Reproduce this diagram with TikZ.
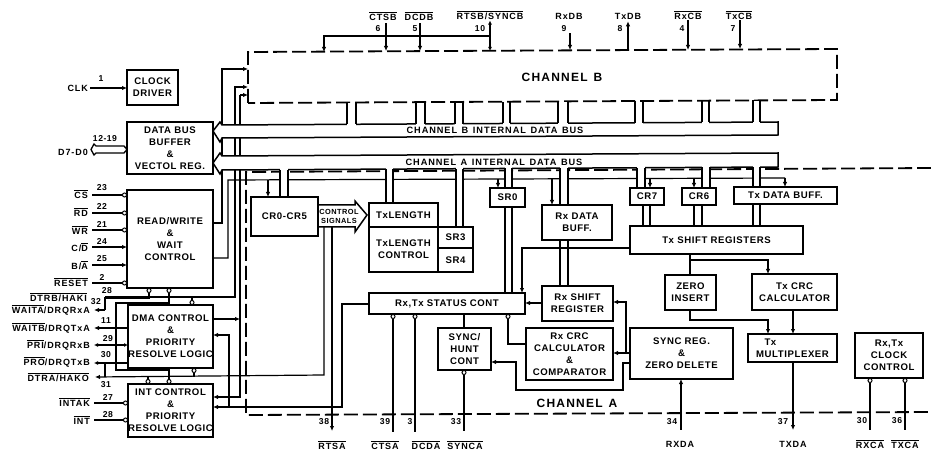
\documentclass[tikz,border=0pt]{standalone}
\usepackage{fontspec}
\setmainfont{Liberation Sans}[LetterSpace=6]
\newfontfamily\widefont{Liberation Sans}[LetterSpace=10]
\usetikzlibrary{arrows.meta,calc}
\newcommand\ovl[1]{$\overline{\hbox{#1}}$}
\tikzset{
  box/.style={draw,line width=2.1pt,inner sep=0pt,outer sep=0pt,align=center,font=\fontsize{9.6}{12}\selectfont\bfseries},
  wire/.style={line width=1.2pt},
  heavy/.style={line width=1.8pt},
  arr/.style={-{Latex[length=5pt,width=4.5pt]}},
  rarr/.style={{Latex[length=5pt,width=4.5pt]}-},
  bub/.style={-{Circle[open,fill=white,length=5pt,width=5pt,line width=1pt]}},
  rbub/.style={{Circle[open,fill=white,length=5pt,width=5pt,line width=1pt]}-},
  dash box/.style={line width=1.8pt,dash pattern=on 14pt off 5pt},
  pin/.style={font=\widefont\fontsize{9}{10}\selectfont\bfseries,inner sep=0pt},
  num/.style={font=\fontsize{8.6}{10}\selectfont\bfseries,inner sep=0pt},
  buslabel/.style={font=\widefont\fontsize{9.2}{10}\selectfont\bfseries,inner sep=0pt},
  big/.style={font=\widefont\fontsize{12}{13}\selectfont\bfseries,inner sep=0pt},
}
% name, x1, y1, x2, y2, text
\newcommand\bx[6]{%
  \pgfmathsetmacro\bw{#4-#2}\pgfmathsetmacro\bh{#5-#3}%
  \node[box,minimum width=\bw pt,minimum height=\bh pt,anchor=north west] (#1) at (#2,#3) {#6};}
% stubs: x1, x2, y1, y2
\newcommand\stubB[4]{% opens downward into the bus
  \fill[white] (#1,#3+1) rectangle (#2,#4+1.6);
  \draw[line width=1.5pt] (#1,#3) -- (#1,#4) (#2,#3) -- (#2,#4);}
\newcommand\stubA[4]{% opens upward into the bus
  \fill[white] (#1,#3-1.6) rectangle (#2,#4-1.1);
  \draw[line width=1.5pt] (#1,#3) -- (#1,#4) (#2,#3) -- (#2,#4);}
\newcommand\stubM[4]{% box to box
  \draw[line width=1.5pt] (#1,#3) -- (#1,#4) (#2,#3) -- (#2,#4);}
\begin{document}
\begin{tikzpicture}[x=1pt,y=-1pt]
\useasboundingbox (0,0) rectangle (931,454);

% channel frames
\draw[dash box] (248,103) -- (248,52) -- (837,49) -- (837,100) -- cycle;
\draw[dash box] (931,168) -- (246,172) -- (246,415) -- (931,412);

% boxes
\bx{clock}{127}{70}{178}{105}{CLOCK\\DRIVER}
\bx{dbuf}{127}{122}{213}{174}{DATA BUS\\BUFFER\\\&\\VECTOL REG.}
\bx{rw}{127}{190}{213}{288}{READ/WRITE\\\&\\WAIT\\CONTROL}
\bx{dma}{128}{305}{213}{368}{DMA CONTROL\\\&\\PRIORITY\\RESOLVE LOGIC}
\bx{int}{128}{384}{213}{437}{INT CONTROL\\\&\\PRIORITY\\RESOLVE LOGIC}
\bx{cr0}{251}{197}{318}{236}{CR0-CR5}
\bx{txl}{369}{203}{438}{227}{TxLENGTH}
\bx{txc}{369}{227}{438}{272}{TxLENGTH\\CONTROL}
\bx{sr3}{438}{227}{473}{248}{SR3}
\bx{sr4}{438}{248}{473}{272}{SR4}
\bx{sr0}{490}{188}{525}{207}{SR0}
\bx{rxbuf}{542}{205}{612}{240}{Rx DATA\\BUFF.}
\bx{cr7}{630}{188}{664}{205}{CR7}
\bx{cr6}{682}{188}{716}{205}{CR6}
\bx{txbuf}{734}{187}{837}{204}{Tx DATA BUFF.}
\bx{txsr}{630}{226}{803}{254}{Tx SHIFT REGISTERS}
\bx{zero}{665}{275}{716}{310}{ZERO\\INSERT}
\bx{txcrc}{752}{274}{837}{310}{Tx CRC\\CALCULATOR}
\bx{mux}{748}{334}{837}{362}{Tx\hspace{4.6em}\null\\MULTIPLEXER}
\bx{status}{369}{293}{525}{314}{Rx,Tx STATUS CONT}
\bx{rxsr}{542}{286}{613}{321}{Rx SHIFT\\REGISTER}
\bx{rxcrc}{526}{328}{613}{380}{Rx CRC\\CALCULATOR\\\&\\COMPARATOR}
\bx{sync}{438}{328}{491}{370}{SYNC/\\HUNT\\CONT}
\bx{syncreg}{630}{328}{733}{379}{SYNC REG.\\\&\\ZERO DELETE}
\bx{clkc}{855}{333}{923}{378}{Rx,Tx\\CLOCK\\CONTROL}

% left-side control paths (the buses lie over them)
\draw[heavy,arr] (rw.east |- 0,223) -- (222,223) -- (222,69) -- (248,69);
\draw[wire,arr] (192,297) -- (235,297) -- (235,87) -- (248,87);
\draw[wire,arr] (dma.east |- 0,319) -- (240,319);
\draw[wire,arr] (240,95) -- (248,95);
\draw[heavy,rarr] (int.east |- 0,397) -- (240,397) -- (240,95);
\draw[wire,rarr] (int.east |- 0,407) -- (342,407) -- (342,304) -- (status.west |- 0,304);
\draw[wire,rarr] (dma.east |- 0,335) -- (229,335) -- (229,407);
\draw[wire,bub] (192,297) -- (dma.north -| 192,0);

% internal buses
\draw[line width=1.5pt,fill=white] (213,131) -- (220,122) -- (222,125) -- (778,122) -- (778,135) -- (222,138) -- (220,142) -- cycle;
\draw[line width=1.5pt,fill=white] (213,163) -- (220,153) -- (222,156) -- (778,153) -- (778,167) -- (222,170) -- (220,174) -- cycle;
\node[buslabel] (busB) at (495,130) {CHANNEL\enspace B\enspace INTERNAL\enspace DATA\enspace BUS};
\node[buslabel] (busA) at (494,162) {CHANNEL\enspace A\enspace INTERNAL\enspace DATA\enspace BUS};
\node[big] (chB) at (562,77) {CHANNEL\enspace B};
\node[big] (chA) at (577,403) {CHANNEL\enspace A};

% control signals arrow
\draw[line width=1.5pt,fill=white] (318,205) -- (355,205) -- (355,201) -- (367,215) -- (355,232) -- (355,227) -- (318,227) -- cycle;
\node[inner sep=0pt,minimum width=37pt,minimum height=22pt,align=center,font=\fontsize{7.4}{9}\selectfont\bfseries] (ctrl) at (339,216) {CONTROL\\SIGNALS};

% long write-strobe line
\draw[wire] (rw.east |- 0,258) -- (228,258) -- (228,180) -- (785,178);
\draw[wire,arr] (268,180) -- (cr0.north -| 268,0);
\draw[wire,arr] (498,179) -- (sr0.north -| 498,0);
\draw[wire,arr] (552,179) -- (rxbuf.north -| 552,0);
\draw[wire,arr] (650,178) -- (cr7.north -| 650,0);
\draw[wire,arr] (694,178) -- (cr6.north -| 694,0);
\draw[wire,arr] (785,178) -- (txbuf.north -| 785,0);

% channel B stubs
\stubB{347}{356}{102}{124}
\stubB{416}{425}{102}{124}
\stubB{455}{463}{102}{124}
\stubB{503}{510}{102}{123.5}
\stubB{558}{568}{101}{123}
\stubB{635}{643}{101}{123}
\stubB{702}{709}{101}{122.5}
\stubB{753}{760}{100}{122}

% channel A stubs
\stubA{280}{288}{170}{197}
\stubA{386}{393}{169}{203}
\stubA{456}{463}{169}{227}
\stubA{505}{512}{168.5}{188}
\stubA{560}{568}{168}{205}
\stubA{637}{645}{168}{188}
\stubA{702}{710}{167.5}{188}
\stubA{753}{760}{167}{187}
\stubM{505}{512}{207}{293}
\stubM{560}{568}{240}{286}
\stubM{643}{650}{205}{226}
\stubM{694}{702}{205}{226}
\stubM{753}{760}{204}{226}

% RW / DMA / INT interconnects
\draw[heavy,rbub] (rw.south -| 149,0) -- (149,298) -- (105,298) -- (105,310);
\draw[heavy] (192,297) -- (105,297);
\draw[wire,rbub] (rw.south -| 169,0) -- (169,303) -- (116,303) -- (116,370) -- (169,370);
\draw[wire,bub] (169,370) -- (int.north -| 169,0);
\draw[heavy] (dma.south -| 169,0) -- (169,370);
\draw[wire,rbub] (dma.south -| 194,0) -- (194,377);
\draw[wire,bub] (148,377) -- (int.north -| 148,0);

% control signal outputs and DTRA
\draw[wire,arr] (ctrl.south -| 324,0) -- (324,375) -- (95,377);
\draw[heavy,arr] (ctrl.south -| 332,0) -- (332,431);
\draw[wire] (105,363) -- (105,377);

% bottom of status
\draw[heavy,rbub] (status.south -| 393,0) -- (393,432);
\draw[heavy,rbub] (status.south -| 415,0) -- (415,432);
\draw[wire] (status.south -| 464,0) -- (sync.north -| 464,0);
\draw[wire,rbub] (status.south -| 508,0) -- (508,344) -- (rxcrc.west |- 0,344);
\draw[wire,rbub] (sync.south -| 464,0) -- (464,431);
\draw[wire,rarr] (status.east |- 0,303) -- (rxsr.west |- 0,303);
\draw[wire,arr] (txsr.west |- 0,248) -- (522,248) -- (status.north -| 522,0);

% Rx/sync reg
\draw[wire,rarr] (rxsr.east |- 0,302) -- (626,302) -- (626,353);
\draw[wire,rarr] (rxcrc.east |- 0,353) -- (syncreg.west |- 0,353);
\draw[wire,rarr] (sync.east |- 0,362) -- (516,362) -- (516,390) -- (623,390) -- (623,363) -- (syncreg.west |- 0,363);

% Tx chain
\draw[heavy] (txsr.south -| 690,0) -- (zero.north -| 690,0);
\draw[wire,arr] (690,260) -- (768,260) -- (txcrc.north -| 768,0);
\draw[wire,arr] (zero.south -| 690,0) -- (690,320) -- (768,320) -- (mux.north -| 768,0);
\draw[wire,arr] (txcrc.south -| 793,0) -- (mux.north -| 793,0);
\draw[wire,arr] (mux.south -| 793,0) -- (793,430);
\draw[wire,rarr] (syncreg.south -| 681,0) -- (681,430);
\draw[heavy,rbub] (clkc.south -| 870,0) -- (870,430);
\draw[heavy,rbub] (clkc.south -| 905,0) -- (905,430);

% bottom pins
\node[pin] (pRTSA) at (332,445) {\ovl{RTSA}};
\node[pin] (pCTSA) at (385,445) {\ovl{CTSA}};
\node[pin] (pDCDA) at (426,445) {\ovl{DCDA}};
\node[pin] (pSYNCA) at (465,445) {\ovl{SYNCA}};
\node[pin] (pRXDA) at (680,444) {RXDA};
\node[pin] (pTXDA) at (793,444) {TXDA};
\node[pin] (pRXCA) at (870,444) {\ovl{RXCA}};
\node[pin] (pTXCA) at (905,444) {\ovl{TXCA}};
\node[num] (n38) at (324,422) {38};
\node[num] (n39) at (385,422) {39};
\node[num] (n3) at (410,422) {3};
\node[num] (n33) at (456,422) {33};
\node[num] (n34) at (672,422) {34};
\node[num] (n37) at (783,422) {37};
\node[num] (n30b) at (862,421) {30};
\node[num] (n36) at (897,421) {36};

% top pins
\node[pin] (pCTSB) at (383,16) {\ovl{CTSB}};
\node[pin] (pDCDB) at (419,16) {\ovl{DCDB}};
\node[pin] (pRTSB) at (490,15) {\ovl{RTSB/SYNCB}};
\node[pin] (pRxDB) at (569,16) {RxDB};
\node[pin] (pTxDB) at (628,16) {TxDB};
\node[pin] (pRxCB) at (688,15) {\ovl{RxCB}};
\node[pin] (pTxCB) at (739,15) {\ovl{TxCB}};
\node[num] (n6) at (378,29) {6};
\node[num] (n5) at (415,29) {5};
\node[num] (n10) at (480,29) {10};
\node[num] (n9) at (564,29) {9};
\node[num] (n8) at (620,29) {8};
\node[num] (n4) at (682,29) {4};
\node[num] (n7) at (733,29) {7};
\coordinate (b1) at (324,52);
\coordinate (b2) at (386,51);
\coordinate (b3) at (420,51);
\coordinate (b4) at (490,51);
\coordinate (b5) at (570,50);
\coordinate (b6) at (628,50);
\coordinate (b7) at (688,50);
\coordinate (b8) at (740,49);
\draw[wire,arr] (b2 |- pCTSB.south) ++(0,3) -- (b2);
\draw[wire,arr] (b3 |- pDCDB.south) ++(0,3) -- (b3);
\draw[wire,{Latex[length=4pt,width=4pt]}-{Latex[length=4pt,width=4pt]}] (b4 |- pRTSB.south) ++(0,1) -- (b4);
\draw[wire,arr] (b5 |- pRxDB.south) ++(0,14) -- (b5);
\draw[wire,rarr] (b6 |- pTxDB.south) ++(0,2) -- (b6);
\draw[wire,arr] (b7 |- pRxCB.south) ++(0,1) -- (b7);
\draw[wire,arr] (b8 |- pTxCB.south) ++(0,1) -- (b8);
\draw[wire,arr] (490,36) -- (324,36) -- (b1);

% left pins
\node[pin,anchor=east] (pCLK) at (88,88) {CLK};
\node[num] (n1) at (101,79) {1};
\draw[wire,arr] (pCLK.east) ++(2,0) -- (clock.west |- 0,88);

\node[pin,anchor=east] (pD) at (88,152) {D7-D0};
\node[num] (n12) at (105,139) {12-19};
\draw[line width=1.3pt,fill=white] (91,149.5) -- (94,144) -- (96,146) -- (124,146) -- (127,149.5) -- (124,153) -- (96,153) -- (94,155) -- cycle;

\node[pin,anchor=east] (pCS) at (88,194) {\ovl{CS}};
\node[num] (n23) at (102,188) {23};
\draw[wire,bub] (pCS.east) ++(4,1) -- (rw.west |- 0,195);
\node[pin,anchor=east] (pRD) at (88,212) {\ovl{RD}};
\node[num] (n22) at (102,206) {22};
\draw[wire,bub] (pRD.east) ++(4,1) -- (rw.west |- 0,213);
\node[pin,anchor=east] (pWR) at (88,230) {\ovl{WR}};
\node[num] (n21) at (102,224) {21};
\draw[wire,bub] (pWR.east) ++(4,0) -- (rw.west |- 0,230);
\node[pin,anchor=east] (pCD) at (88,247) {C/\ovl{D}};
\node[num] (n24) at (102,241) {24};
\draw[wire,arr] (pCD.east) ++(4,0) -- (rw.west |- 0,247);
\node[pin,anchor=east] (pBA) at (88,265) {B/\ovl{A}};
\node[num] (n25) at (102,259) {25};
\draw[wire,arr] (pBA.east) ++(4,0) -- (rw.west |- 0,265);
\node[pin,anchor=east] (pRES) at (88,282) {\ovl{RESET}};
\node[num] (n2) at (102,277) {2};
\draw[wire,bub] (pRES.east) ++(4,1) -- (rw.west |- 0,283);

\node[pin,anchor=east] (pDTRB) at (87,297) {\ovl{DTRB/HAKI}};
\node[num] (n28) at (107,291) {28};
\node[num] (n32) at (96,302) {32};
\node[pin,anchor=east] (pWAITA) at (90,310) {\ovl{WAITA}/DRQRxA};
\draw[heavy,arr] (105,310) -- (94,310);
\node[pin,anchor=east] (pWAITB) at (90,328) {\ovl{WAITB}/DRQTxA};
\node[num] (n11) at (106,321) {11};
\draw[wire,rarr] (94,328) -- (dma.west |- 0,328);
\node[pin,anchor=east] (pPRI) at (90,345) {\ovl{PRI}/DRQRxB};
\node[num] (n29) at (108,339) {29};
\draw[wire,{Latex[length=4pt,width=4pt]}-{Latex[length=4pt,width=4pt]}] (94,345) -- (dma.west |- 0,345);
\node[pin,anchor=east] (pPRO) at (90,362) {\ovl{PRO}/DRQTxB};
\node[num] (n30) at (106,355) {30};
\draw[wire,{Latex[length=4pt,width=4pt]}-] (94,363) -- (dma.west |- 0,363);
\node[pin,anchor=east] (pDTRA) at (89,377) {\ovl{DTRA/HAKO}};
\node[num] (n31) at (106,385) {31};
\node[pin,anchor=east] (pINTAK) at (90,402) {\ovl{INTAK}};
\node[num] (n27) at (108,397) {27};
\draw[wire,bub] (pINTAK.east) ++(4,1) -- (int.west |- 0,403);
\node[pin,anchor=east] (pINT) at (90,420) {\ovl{INT}};
\node[num] (n28b) at (108,415) {28};
\draw[wire,bub] (pINT.east) ++(4,0) -- (int.west |- 0,420);
\end{tikzpicture}
\end{document}
